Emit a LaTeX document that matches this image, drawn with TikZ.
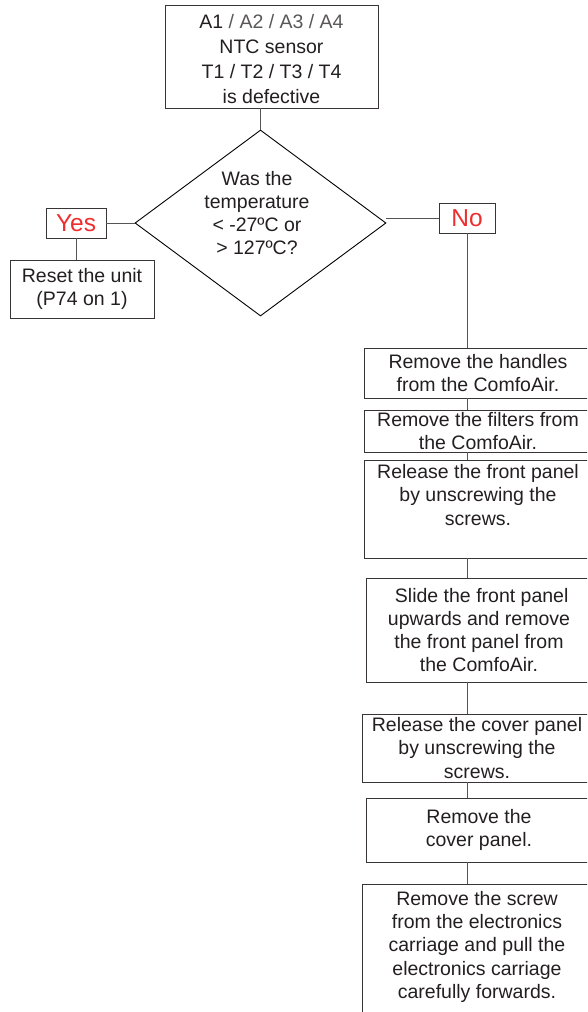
\documentclass[tikz,border=0pt]{standalone}
\usepackage{fontspec}
\setmainfont{Liberation Sans}
\usetikzlibrary{shapes.geometric}
\definecolor{txt}{HTML}{231F20}
\definecolor{lbl}{HTML}{EE2E2E}
\definecolor{conn}{HTML}{555555}
\begin{document}
\begin{tikzpicture}[x=1pt,y=-1pt,
  box/.style={draw=txt!90, line width=0.9pt, rectangle, inner sep=0pt, align=center, text=txt,
    font=\fontsize{19.5}{23.2}\selectfont},
  ans/.style={draw=txt!90, line width=0.9pt, rectangle, inner sep=0pt, text=lbl,
    font=\fontsize{24.5}{26}\selectfont},
  link/.style={draw=conn, line width=0.9pt}]
\useasboundingbox (0,0) rectangle (587,1012);
\clip (0,0) rectangle (587,1012);
% top box
\node[box, minimum width=213, minimum height=103] (top) at (271.5,56.5) {};
\node[align=center, text=txt, inner sep=0pt, font=\fontsize{19.5}{24.7}\selectfont] (toptxt) at (271.5,59)
  {A1 {\color{txt!75}/ A2 / A3 / A4}\\NTC sensor\\ T1 / T2 / T3 / T4\\is defective};
% diamond
\node[draw=black, line width=0.9pt, shape=diamond, inner sep=0pt, minimum width=251, minimum height=186] (dia) at (260.5,223) {};
\node[align=center, text=txt, font=\fontsize{19.5}{23}\selectfont] (diatxt) at (257,213)
  {Was the\\temperature\\< -27ºC or\\> 127ºC?};
% yes / no
\node[ans, minimum width=60, minimum height=30] (yes) at (76,223) {Yes};
\node[box, minimum width=144, minimum height=58] (reset) at (82,289) {Reset the unit\\(P74 on 1)};
\node[ans, minimum width=56, minimum height=30] (no) at (467,218) {No};
% right column
\node[box, minimum width=228, minimum height=50] (b1) at (478,373) {Remove the handles\\from the ComfoAir.};
\node[box, minimum width=228, minimum height=42] (b2) at (478,431) {Remove the filters from\\the ComfoAir.};
\node[box, minimum width=228, minimum height=98] (b3) at (478,509) {Release the front panel\\by unscrewing the\\screws.\\[5pt]};
\node[box, minimum width=226, minimum height=104] (b4) at (479,630) {\ Slide the front panel\\upwards and remove\\the front panel from\\the ComfoAir.};
\node[box, minimum width=230, minimum height=68] (b5) at (477,748) {Release the cover panel\\by unscrewing the\\screws.};
\node[box, minimum width=226, minimum height=64] (b6) at (479,830) {Remove the\\cover panel.};
\node[box, minimum width=230, minimum height=146, anchor=north, inner ysep=7pt] (b7) at (477,884) {Remove the screw\\from the electronics\\carriage and pull the\\electronics carriage\\carefully forwards.\\[8pt]};
% connectors
\draw[link] (top.south -| dia.north) -- (dia.north);
\draw[link] (dia.west) -- (yes.east |- dia.west);
\draw[link] (yes.south) -- (reset.north -| yes.south);
\draw[link] (dia.east |- no.west) -- (no.west);
\draw[link] (no.south) -- (b1.north -| no.south);
\draw[link] (b1.south -| no.south) -- (b2.north -| no.south);
\draw[link] (b2.south -| no.south) -- (b3.north -| no.south);
\draw[link] (b3.south -| no.south) -- (b4.north -| no.south);
\draw[link] (b4.south -| no.south) -- (b5.north -| no.south);
\draw[link] (b5.south -| no.south) -- (b6.north -| no.south);
\draw[link] (b6.south -| no.south) -- (b7.north -| no.south);
\end{tikzpicture}
\end{document}
